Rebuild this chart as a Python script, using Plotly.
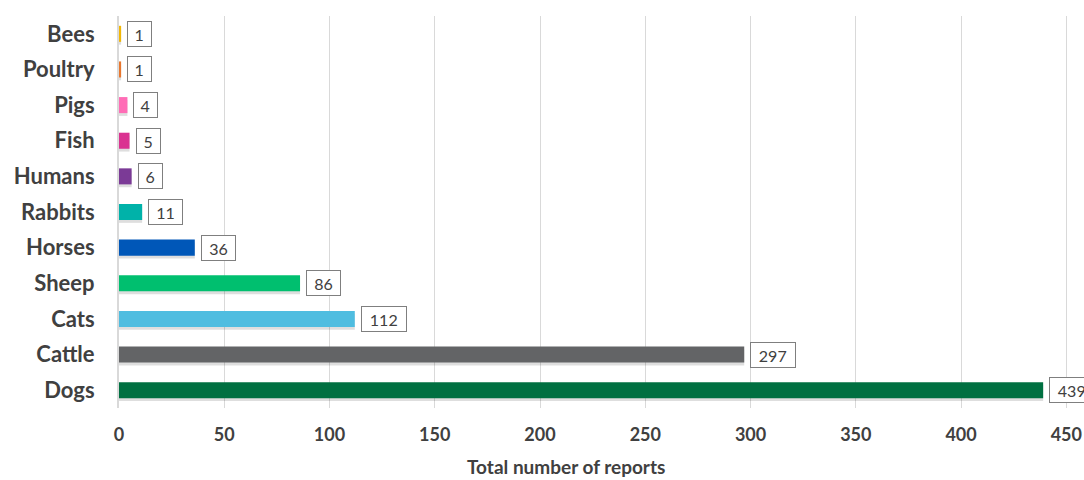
import plotly.graph_objects as go

# Reports by species
species = ["Bees", "Poultry", "Pigs", "Fish", "Humans", "Rabbits",
           "Horses", "Sheep", "Cats", "Cattle", "Dogs"]
reports = [1, 1, 4, 5, 6, 11, 36, 86, 112, 297, 439]
bar_colors = ["#F2B705", "#E8772E", "#FF6DB6", "#DA3291", "#7B3A96", "#00B2A9",
              "#0057B8", "#00BF6F", "#4FBDE0", "#636466", "#007041"]
x_ticks = [0, 50, 100, 150, 200, 250, 300, 350, 400, 450]

BAR_W = 0.45
TEXT = "#404040"

fig = go.Figure()

# soft drop shadow under each bar
fig.add_trace(go.Bar(
    y=species, x=reports, orientation="h",
    width=BAR_W, offset=-BAR_W / 2 + 0.08,
    marker=dict(color="rgba(0,0,0,0.13)", line=dict(width=0)),
    hoverinfo="skip", showlegend=False,
))
fig.add_trace(go.Bar(
    y=species, x=reports, orientation="h",
    width=BAR_W, offset=-BAR_W / 2,
    marker=dict(color=bar_colors, line=dict(width=0)),
    showlegend=False,
))

# boxed value labels next to each bar end
for name, val in zip(species, reports):
    label = str(val)
    fig.add_annotation(
        x=val, y=name, xref="x", yref="y",
        text=label, showarrow=False,
        xanchor="left", yanchor="middle", xshift=6,
        width=6 + 10.5 * len(label), height=18, align="center",
        bordercolor="#7f7f7f", borderwidth=1, borderpad=3,
        bgcolor="white",
        font=dict(family="Lato", size=16, color=TEXT),
    )

fig.add_annotation(
    text="<b>Total number of reports</b>", xref="paper", yref="paper",
    x=0.463, y=-0.15, xanchor="center", yanchor="middle", showarrow=False,
    font=dict(family="Lato", size=19, color=TEXT),
)

fig.update_layout(
    width=1084, height=480,
    margin=dict(l=119, r=0, t=16, b=72),
    paper_bgcolor="white", plot_bgcolor="white",
    barmode="overlay",
    xaxis=dict(
        range=[0, 458.4], tickvals=x_ticks,
        showgrid=True, gridcolor="#d9d9d9", gridwidth=1,
        zeroline=False, showline=False, ticks="",
        ticklabelstandoff=14,
        tickfont=dict(family="Lato", size=18, color=TEXT, weight="bold"),
    ),
    yaxis=dict(
        autorange="reversed",
        showgrid=False, zeroline=False,
        showline=True, linecolor="#d9d9d9", linewidth=2,
        layer="above traces", ticks="",
        ticklabelstandoff=18,
        tickfont=dict(family="Lato", size=22, color=TEXT, weight="bold"),
    ),
)

fig.write_html("out.html")
